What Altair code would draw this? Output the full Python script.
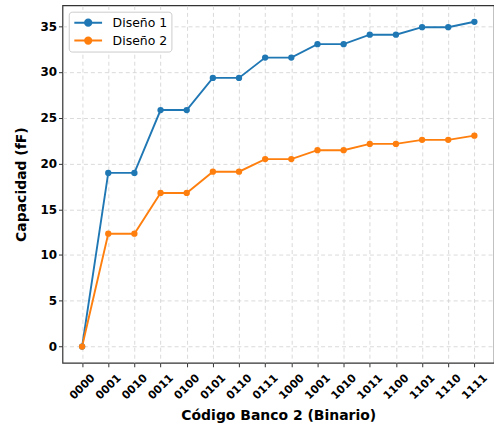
import altair as alt
import pandas as pd

codes = ["0000", "0001", "0010", "0011", "0100", "0101", "0110", "0111",
         "1000", "1001", "1010", "1011", "1100", "1101", "1110", "1111"]
diseno1 = [0.0, 18.97, 18.97, 25.84, 25.84, 29.35, 29.35, 31.57,
           31.57, 33.04, 33.04, 34.07, 34.07, 34.89, 34.89, 35.48]
diseno2 = [0.0, 12.33, 12.33, 16.78, 16.78, 19.1, 19.1, 20.48,
           20.48, 21.45, 21.45, 22.14, 22.14, 22.58, 22.58, 23.04]
series = ["Diseño 1", "Diseño 2"]
colors = ["#1f77b4", "#ff7f0e"]

rows = []
for name, vals in zip(series, [diseno1, diseno2]):
    for c, v in zip(codes, vals):
        rows.append({"codigo": c, "serie": name, "capacidad": v})
df = pd.DataFrame(rows)

FONT = "DejaVu Sans"
# legend glyph: short line with a dot in the middle
legend_symbol = ("M-2.2,0H2.2M-0.5,0A0.5,0.5,0,1,1,0.5,0"
                 "A0.5,0.5,0,1,1,-0.5,0Z")

x = alt.X("codigo:O", sort=codes,
          scale=alt.Scale(type="point", padding=0.75),
          axis=alt.Axis(title="Código Banco 2 (Binario)", labelAngle=-45,
                        labelAlign="center", labelBaseline="middle",
                        labelFontWeight="bold", labelFontSize=11,
                        labelPadding=20, titleFontSize=14, titleFontWeight="bold",
                        titlePadding=8, grid=True))
y = alt.Y("capacidad:Q",
          scale=alt.Scale(domain=[-1.775, 37.27], nice=False, zero=False),
          axis=alt.Axis(title="Capacidad (fF)", values=[0, 5, 10, 15, 20, 25, 30, 35],
                        labelFontWeight="bold", labelFontSize=12,
                        titleFontSize=14, titleFontWeight="bold",
                        titlePadding=11, grid=True))
color = alt.Color("serie:N",
                  scale=alt.Scale(domain=series, range=colors),
                  legend=alt.Legend(title=None, orient="none", legendX=6.3, legendY=6.3,
                                    symbolType=legend_symbol, symbolSize=160,
                                    symbolStrokeWidth=2, symbolOffset=8.5,
                                    labelFontSize=12.5, labelFont=FONT,
                                    labelOffset=17,
                                    rowPadding=3, padding=3.5,
                                    strokeColor="#cccccc", fillColor="white",
                                    cornerRadius=3))

base = alt.Chart(df).encode(x=x, y=y, color=color)
lines = base.mark_line(strokeWidth=1.9)
points = base.mark_circle(size=40, opacity=1)

chart = (lines + points).properties(
    width=433, height=358.6,
    autosize=alt.AutoSizeParams(type="none"),
    padding={"left": 62.7, "top": 4.7, "right": 0, "bottom": 65},
).configure_view(
    stroke="#333333", strokeWidth=1.2
).configure_axis(
    labelFont=FONT, titleFont=FONT, labelColor="black", titleColor="black",
    domain=False, tickColor="#333333", tickSize=4, tickWidth=1,
    gridColor="#d0d0d0", gridDash=[4, 3], gridWidth=0.8,
)

chart.save("out.html", embed_options={"renderer": "svg", "actions": False})
